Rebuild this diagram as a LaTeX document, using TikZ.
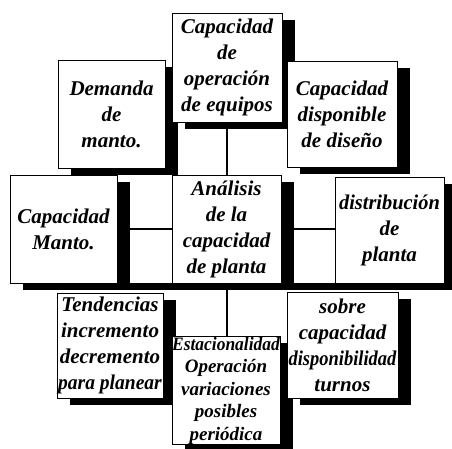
\documentclass[tikz,border=0pt]{standalone}
\usepackage{fontspec}
\setmainfont{Liberation Serif}
\usetikzlibrary{backgrounds}
\tikzset{
  box/.style={draw=black, fill=white, line width=0.8pt, rectangle, inner sep=0pt,
    align=center, font=\fontsize{21}{26}\selectfont\bfseries\itshape},
  smallbox/.style={box, font=\fontsize{19}{22.5}\selectfont\bfseries\itshape},
  conn/.style={draw=black, line width=2pt},
  shade/.style={fill=black}
}
\newcommand{\shadowof}[1]{\fill[shade] ([shift={(13,7)}]#1.north west) rectangle ([shift={(13,7)}]#1.south east);}
\begin{document}
\begin{tikzpicture}[x=1pt, y=-1pt]
\useasboundingbox (0,0) rectangle (452,449);
\node[box, minimum width=110pt, minimum height=109pt] (A) at (227,67.5) {Capacidad\\de\\operación\\de equipos};
\node[box, minimum width=107pt, minimum height=108pt] (B) at (111.5,114) {Demanda\\de\\manto.};
\node[box, minimum width=110pt, minimum height=106pt] (C) at (342,114) {Capacidad\\disponible\\de diseño};
\node[box, minimum width=107pt, minimum height=108pt] (D) at (63.5,229) {Capacidad\\Manto.};
\node[box, minimum width=109pt, minimum height=108pt] (E) at (226.5,229) {Análisis\\de la\\capacidad\\de planta};
\node[box, minimum width=109pt, minimum height=106pt] (F) at (389.5,230) {\scalebox{0.97}[1]{distribución}\\de\\planta};
\node[box, minimum width=106pt, minimum height=105pt] (G) at (110,345.5) {Tendencias\\incremento\\decremento\\\scalebox{0.93}[1]{para planear}};
\node[smallbox, minimum width=108pt, minimum height=105pt] (H) at (226,390.5) {\scalebox{0.92}[1]{Estacionalidad}\\Operación\\variaciones\\posibles\\periódica};
\node[box, minimum width=111pt, minimum height=106pt] (I) at (342.5,345) {sobre\\capacidad\\\scalebox{0.88}[1]{disponibilidad}\\turnos};
\begin{scope}[on background layer]
  \fill[shade] (25,283) rectangle (452,290);
  \shadowof{A}\shadowof{B}\shadowof{C}\shadowof{D}\shadowof{E}
  \shadowof{F}\shadowof{G}\shadowof{H}\shadowof{I}
  \draw[conn] (A.south) -- (A.south |- E.north);
  \draw[conn] (D.east) -- (E.west);
  \draw[conn] (E.east) -- (E.east -| F.west);
  \draw[conn] (E.south) -- (E.south |- H.north);
\end{scope}
\end{tikzpicture}
\end{document}
